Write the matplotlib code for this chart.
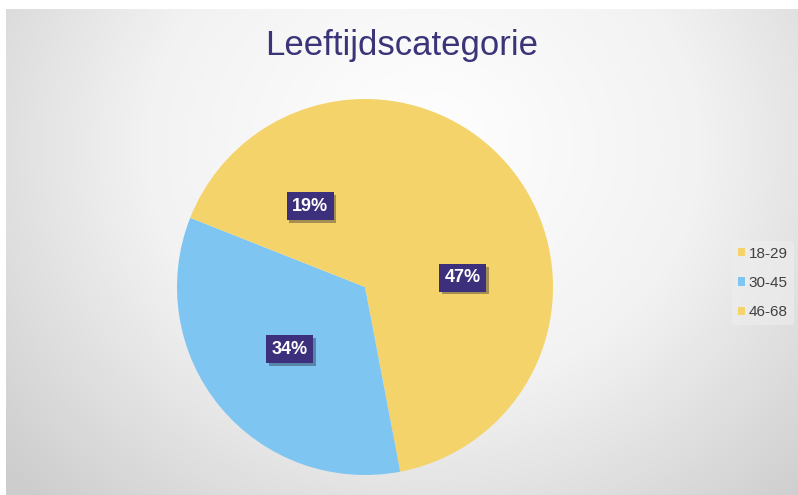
import numpy as np
import matplotlib
matplotlib.use("Agg")
import matplotlib.pyplot as plt
import matplotlib.patheffects as pe
from matplotlib.colors import LinearSegmentedColormap

plt.rcParams["font.family"] = ["Liberation Sans", "DejaVu Sans"]

# data
categories = ["18-29", "30-45", "46-68"]
shares = [47, 34, 19]
colors = ["#F4D46A", "#7EC6F1", "#F4D46A"]

TITLE = "Leeftijdscategorie"
W, H = 798, 495

fig = plt.figure(figsize=(W / 100, H / 100), dpi=100)
fig.patch.set_facecolor("white")

# radial grey background like the office chart area
bg = fig.add_axes([6 / W, 0, 1 - 6 / W, 1 - 9 / H])
yy, xx = np.mgrid[0:H, 0:W]
r = np.sqrt(((xx - 420) / 1.0) ** 2 + ((yy - 140) / 0.9) ** 2)
r = np.clip(r / 560, 0, 1)
grad = LinearSegmentedColormap.from_list("bg", ["#ffffff", "#f2f2f2", "#cdcdcd"])
bg.imshow(r, cmap=grad, aspect="auto", extent=[0, 1, 0, 1], origin="upper")
bg.set_axis_off()

fig.text(402 / W, 1 - 46 / H, TITLE, ha="center", va="center",
         fontsize=25, color="#3A3479")

# pie axes
cx, cy, rad = 365, 287, 188
ax = fig.add_axes([(cx - rad) / W, (H - cy - rad) / H, 2 * rad / W, 2 * rad / H])
wedges, texts, autotexts = ax.pie(
    shares, colors=colors, startangle=90, counterclock=False,
    autopct="%d%%", pctdistance=0.52,
    wedgeprops=dict(linewidth=0),
    textprops=dict(color="white", fontsize=13, fontweight="bold"),
)
ax.set_xlim(-1, 1)
ax.set_ylim(-1, 1)
ax.set_aspect("auto")
ax.set_axis_off()

for t in autotexts:
    t.set_bbox(dict(boxstyle="square,pad=0.3", facecolor="#3C2F7C", edgecolor="none"))
    t.get_bbox_patch().set_path_effects(
        [pe.SimplePatchShadow(offset=(2, -2), alpha=0.35), pe.Normal()])

leg = fig.legend(wedges, categories, loc="center left",
                 bbox_to_anchor=(724 / W, 1 - 283 / H),
                 frameon=True, fontsize=11, handlelength=0.45, handleheight=0.45,
                 handletextpad=0.25, labelspacing=1.0, borderpad=0.4)
leg.get_frame().set_facecolor("#eeeeee")
leg.get_frame().set_edgecolor("none")
leg.get_frame().set_alpha(0.6)
for txt in leg.get_texts():
    txt.set_color("#404040")

fig.savefig("out.png", dpi=100)
